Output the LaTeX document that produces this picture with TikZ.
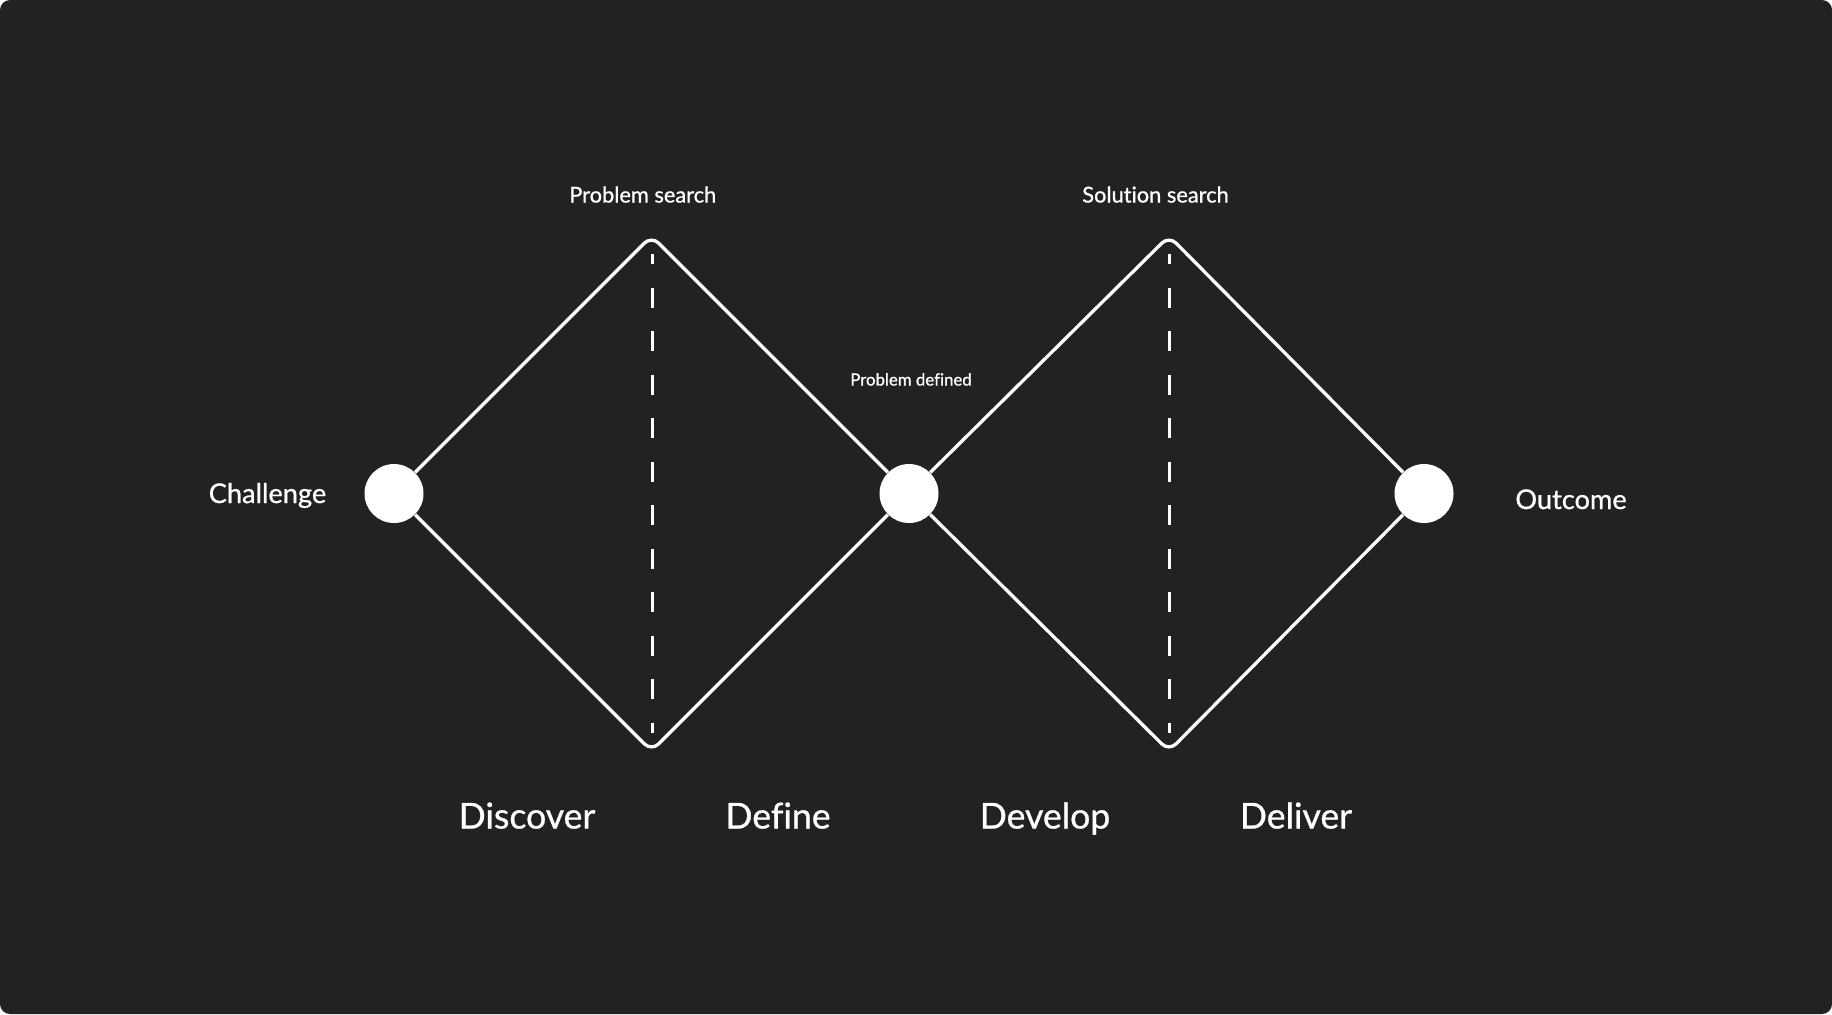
\documentclass[tikz,border=0pt]{standalone}
\usepackage{fontspec}
\setmainfont{Lato}[Ligatures={NoCommon},FakeBold=0.8]
\definecolor{bg}{HTML}{222222}
\tikzset{
  px/.style={x=0.5pt,y=-0.5pt},
  edge/.style={draw=white,line width=1.65pt,rounded corners=5pt},
  dashline/.style={draw=white,line width=1.5pt,dash pattern=on 10pt off 11.75pt,dash phase=5pt},
  dot/.style={circle,fill=white,draw=none,minimum size=29.5pt,inner sep=0pt},
  lbl/.style={text=white,anchor=base,inner sep=0pt},
  phase/.style={lbl,font=\fontsize{17.8pt}{20pt}\selectfont},
  endlbl/.style={lbl,font=\fontsize{13.6pt}{16pt}\selectfont},
  toplbl/.style={lbl,font=\fontsize{10.9pt}{13pt}\selectfont},
  smalllbl/.style={lbl,font=\fontsize{8.4pt}{10pt}\selectfont},
}
\begin{document}
\begin{tikzpicture}[px]
\useasboundingbox (0,0) rectangle (1832,1014);
\fill[white] (0,0) rectangle (1832,1014);
\fill[bg,rounded corners=5pt] (0,0) rectangle (1832,1014);
% vertices
\coordinate (t1) at (651.5,236);
\coordinate (b1) at (651.5,751);
\coordinate (t2) at (1169,236);
\coordinate (b2) at (1169,751);
\coordinate (d1a) at (652,254);
\coordinate (d1b) at (652,733);
\coordinate (d2a) at (1169,254);
\coordinate (d2b) at (1169,733);
% circles
\node[dot] (c1) at (394,493.5) {};
\node[dot] (c2) at (909,493.5) {};
\node[dot] (c3) at (1424,493.5) {};
% diamonds
\draw[edge] (c1) -- (t1) -- (c2);
\draw[edge] (c1) -- (b1) -- (c2);
\draw[edge] (c2) -- (t2) -- (c3);
\draw[edge] (c2) -- (b2) -- (c3);
\draw[dashline] (d1a) -- (d1b);
\draw[dashline] (d2a) -- (d2b);
% labels
\node[toplbl] (ps) at (642.8,202.5) {Problem search};
\node[toplbl] (ss) at (1155.5,202.5) {Solution search};
\node[smalllbl] (pd) at (911,385.5) {Problem defined};
\node[endlbl] (ch) at (267.5,503) {Challenge};
\node[endlbl] (oc) at (1571,509) {Outcome};
\node[phase] (p1) at (527,828.5) {Discover};
\node[phase] (p2) at (778,828.5) {Define};
\node[phase] (p3) at (1045,828.5) {Develop};
\node[phase] (p4) at (1296,828.5) {Deliver};
\end{tikzpicture}
\end{document}
